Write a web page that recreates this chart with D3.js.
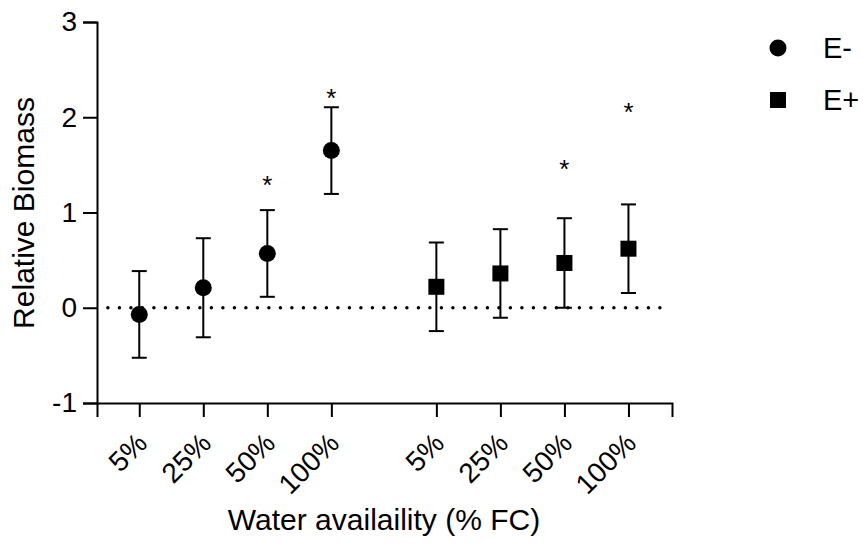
<!DOCTYPE html>
<html>
<head>
<meta charset="utf-8">
<script src="https://cdn.jsdelivr.net/npm/d3@7"></script>
<style>
  body { margin: 0; background: #fff; }
  text { font-family: "Liberation Sans", Arial, sans-serif; fill: #000; }
</style>
</head>
<body>
<div id="chart"></div>
<script>
// categories along the x axis (two groups of water levels)
var waterLevels = ["5%", "25%", "50%", "100%", "5%", "25%", "50%", "100%"];
// position of each category on the x axis (second group shifted right)
var xSlots = [0, 1, 2, 3, 4.64, 5.64, 6.64, 7.64];

// E- series (circles): mean and error
var eMinusMean = [-0.07, 0.21, 0.57, 1.65];
var eMinusErr = [0.455, 0.52, 0.455, 0.455];
var eMinusStar = [null, null, 1.35, 2.26];

// E+ series (squares)
var ePlusMean = [0.22, 0.36, 0.47, 0.62];
var ePlusErr = [0.465, 0.465, 0.47, 0.465];
var ePlusStar = [null, null, 1.51, 2.11];

var yTicks = [-1, 0, 1, 2, 3];

var svgWidth = 863;
var svgHeight = 551;

var svg = d3.select("#chart")
  .append("svg")
  .attr("width", svgWidth)
  .attr("height", svgHeight);

var xScale = d3.scaleLinear()
  .domain([-0.66, 8.32])
  .range([97, 672]);

var yScale = d3.scaleLinear()
  .domain([-1, 3])
  .range([403, 22]);

// y axis
var leftAxis = d3.axisLeft(yScale)
  .tickValues(yTicks)
  .tickSize(14)
  .tickPadding(6)
  .tickFormat(d => String(d));

var yAxisG = svg.append("g")
  .attr("transform", "translate(97,0)")
  .call(leftAxis);
yAxisG.select(".domain").attr("stroke", "#000").attr("stroke-width", 2);
yAxisG.selectAll(".tick line").attr("stroke", "#000").attr("stroke-width", 2);
yAxisG.selectAll(".tick text")
  .attr("font-size", "28px")
  .attr("font-family", "Liberation Sans, Arial, sans-serif");

// x axis
var bottomAxis = d3.axisBottom(xScale)
  .tickValues(xSlots)
  .tickSize(14)
  .tickFormat(function(d, i) { return waterLevels[i]; });

var xAxisG = svg.append("g")
  .attr("transform", "translate(0,403)")
  .call(bottomAxis);
xAxisG.select(".domain").attr("stroke", "#000").attr("stroke-width", 2);
xAxisG.selectAll(".tick line").attr("stroke", "#000").attr("stroke-width", 2);
xAxisG.selectAll(".tick text")
  .attr("font-size", "28px")
  .attr("font-family", "Liberation Sans, Arial, sans-serif")
  .attr("text-anchor", "end")
  .attr("y", 0)
  .attr("dy", 0)
  .attr("transform", "translate(9,42) rotate(-45)");

// dotted zero line
svg.append("line")
  .attr("x1", xScale(-0.49))
  .attr("x2", xScale(8.2))
  .attr("y1", yScale(0))
  .attr("y2", yScale(0))
  .attr("stroke", "#000")
  .attr("stroke-width", 3.5)
  .attr("stroke-linecap", "round")
  .attr("stroke-dasharray", "0 11.5");

function buildSeries(means, errs, stars, offset) {
  return means.map(function(m, i) {
    return { x: xSlots[i + offset], mean: m, err: errs[i], star: stars[i] };
  });
}

var groups = [
  { name: "E-", shape: "circle", data: buildSeries(eMinusMean, eMinusErr, eMinusStar, 0) },
  { name: "E+", shape: "square", data: buildSeries(ePlusMean, ePlusErr, ePlusStar, 4) }
];

var capHalf = 7.5;

groups.forEach(function(g) {
  var pts = svg.append("g").selectAll("g")
    .data(g.data)
    .enter()
    .append("g");

  // error bars
  pts.append("line")
    .attr("x1", d => xScale(d.x))
    .attr("x2", d => xScale(d.x))
    .attr("y1", d => yScale(d.mean + d.err))
    .attr("y2", d => yScale(d.mean - d.err))
    .attr("stroke", "#000")
    .attr("stroke-width", 2);
  pts.append("line")
    .attr("x1", d => xScale(d.x) - capHalf)
    .attr("x2", d => xScale(d.x) + capHalf)
    .attr("y1", d => yScale(d.mean + d.err))
    .attr("y2", d => yScale(d.mean + d.err))
    .attr("stroke", "#000")
    .attr("stroke-width", 2);
  pts.append("line")
    .attr("x1", d => xScale(d.x) - capHalf)
    .attr("x2", d => xScale(d.x) + capHalf)
    .attr("y1", d => yScale(d.mean - d.err))
    .attr("y2", d => yScale(d.mean - d.err))
    .attr("stroke", "#000")
    .attr("stroke-width", 2);

  // markers
  if (g.shape === "circle") {
    pts.append("circle")
      .attr("cx", d => xScale(d.x))
      .attr("cy", d => yScale(d.mean))
      .attr("r", 8.5)
      .attr("fill", "#000");
  } else {
    pts.append("rect")
      .attr("x", d => xScale(d.x) - 8)
      .attr("y", d => yScale(d.mean) - 8)
      .attr("width", 16)
      .attr("height", 16)
      .attr("fill", "#000");
  }

  // significance stars
  pts.filter(d => d.star != null)
    .append("text")
    .attr("x", d => xScale(d.x))
    .attr("y", d => yScale(d.star))
    .attr("dy", "0.56em")
    .attr("text-anchor", "middle")
    .attr("font-size", "26px")
    .text("*");
});

// legend
var legend = svg.append("g").attr("transform", "translate(778,48)");
legend.append("circle").attr("cx", 0).attr("cy", 0).attr("r", 8.5).attr("fill", "#000");
legend.append("rect").attr("x", -8).attr("y", 44).attr("width", 16).attr("height", 16).attr("fill", "#000");
legend.append("text").attr("x", 45).attr("y", 0).attr("dy", "0.35em").attr("font-size", "29px").text(groups[0].name);
legend.append("text").attr("x", 45).attr("y", 52).attr("dy", "0.35em").attr("font-size", "29px").text(groups[1].name);

// axis titles
svg.append("text")
  .attr("transform", "translate(34,213) rotate(-90)")
  .attr("text-anchor", "middle")
  .attr("font-size", "30px")
  .text("Relative Biomass");

svg.append("text")
  .attr("x", 384)
  .attr("y", 530)
  .attr("text-anchor", "middle")
  .attr("font-size", "30px")
  .text("Water availaility (% FC)");
</script>
</body>
</html>
